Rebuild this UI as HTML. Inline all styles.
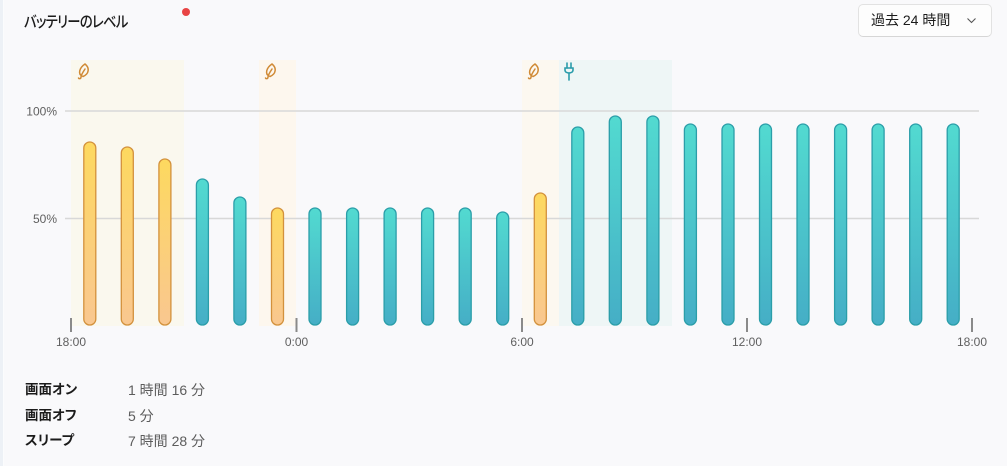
<!DOCTYPE html>
<html><head><meta charset="utf-8"><style>
html,body{margin:0;padding:0;}
body{width:1007px;height:466px;overflow:hidden;background:#f9f9fb;font-family:"Liberation Sans","Noto Sans CJK JP",sans-serif;position:relative;}
.edge{position:absolute;left:0;top:0;width:3px;height:466px;background:#edf1f6;}
.edge2{position:absolute;left:3px;top:0;width:1px;height:466px;background:#fbfcfd;}
.title{position:absolute;left:24px;top:10px;font-size:15.5px;color:#1b1b1b;font-family:"Noto Sans CJK JP",sans-serif;font-weight:500;font-feature-settings:"palt";letter-spacing:-0.8px;line-height:22px;transform:scaleX(0.86);transform-origin:0 50%;white-space:nowrap;}
.dot{position:absolute;left:182px;top:8px;width:8px;height:8px;border-radius:50%;background:#e84444;}
.dd{position:absolute;left:858px;top:4px;width:132px;height:31px;border:1px solid #e2e2e2;border-bottom-color:#d6d6d6;border-radius:5px;background:#fdfdfd;}
.dd span{position:absolute;left:12px;top:5px;font-size:14px;color:#1b1b1b;line-height:20px;font-family:"Liberation Sans","Noto Sans CJK JP",sans-serif;}
.stat{position:absolute;font-size:13.5px;line-height:18px;font-family:"Liberation Sans","Noto Sans CJK JP",sans-serif;}
.lab{left:25px;font-weight:bold;color:#1b1b1b;font-feature-settings:"palt";}
.val{left:128px;color:#5c5c5c;font-size:14px;}
</style></head><body>
<div class="edge"></div><div class="edge2"></div>
<div class="title">バッテリーのレベル</div>
<div class="dot"></div>
<div class="dd"><span>過去 24 時間</span>
<svg style="position:absolute;left:107px;top:12px" width="12" height="8"><polyline points="1.5,1.5 5.5,5.5 9.5,1.5" fill="none" stroke="#555" stroke-width="1.1"/></svg></div>

<svg style="position:absolute;left:0;top:0" width="1007" height="466" xmlns="http://www.w3.org/2000/svg">
<defs>
<linearGradient id="gt" x1="0" y1="0" x2="0" y2="1"><stop offset="0" stop-color="#52dad0"/><stop offset="1" stop-color="#45aec6"/></linearGradient>
<linearGradient id="gy" x1="0" y1="0" x2="0" y2="1"><stop offset="0" stop-color="#fdd95f"/><stop offset="1" stop-color="#f9c790"/></linearGradient>
</defs>
<rect x="71" y="60" width="113" height="266" fill="#faf8ee"/>
<rect x="259" y="60" width="37" height="266" fill="#fdf7ee"/>
<rect x="522" y="60" width="37" height="266" fill="#fcf8f0"/>
<rect x="559" y="60" width="113" height="266" fill="#eef6f6"/>
<line x1="65" y1="111" x2="979" y2="111" stroke="#d8d8d8" stroke-width="1.6"/>
<line x1="65" y1="218.5" x2="979" y2="218.5" stroke="#d8d8d8" stroke-width="1.6"/>
<g font-family="Liberation Sans, sans-serif" font-size="12" fill="#5f5f5f">
<text x="57" y="115.5" text-anchor="end">100%</text>
<text x="57" y="223" text-anchor="end">50%</text>
<text x="71" y="346" text-anchor="middle">18:00</text>
<text x="296.5" y="346" text-anchor="middle">0:00</text>
<text x="522" y="346" text-anchor="middle">6:00</text>
<text x="747" y="346" text-anchor="middle">12:00</text>
<text x="972" y="346" text-anchor="middle">18:00</text>
</g>
<g stroke="#8a8a8a" stroke-width="2">
<line x1="71" y1="318" x2="71" y2="332"/>
<line x1="296.5" y1="318" x2="296.5" y2="332"/>
<line x1="522" y1="318" x2="522" y2="332"/>
<line x1="747" y1="318" x2="747" y2="332"/>
<line x1="972" y1="318" x2="972" y2="332"/>
</g>
<!-- leaf icons -->
<g fill="none" stroke="#d08a35" stroke-width="1.5" stroke-linecap="round">
<g transform="translate(77,63)"><path d="M5 13 C1 11 2 5 8 1 C13 5 12 11 6 13.5"/><path d="M8 6 C6 9 4 12 4 14 C4 16 2 16 1.5 15"/></g>
<g transform="translate(264,63)"><path d="M5 13 C1 11 2 5 8 1 C13 5 12 11 6 13.5"/><path d="M8 6 C6 9 4 12 4 14 C4 16 2 16 1.5 15"/></g>
<g transform="translate(527,63)"><path d="M5 13 C1 11 2 5 8 1 C13 5 12 11 6 13.5"/><path d="M8 6 C6 9 4 12 4 14 C4 16 2 16 1.5 15"/></g>
</g>
<g fill="none" stroke="#2a9cab" stroke-width="1.6" stroke-linecap="round">
<path d="M565 68 L565 70 C565 74 573 74 573 70 L573 68 Z"/>
<line x1="567" y1="63" x2="567" y2="68"/><line x1="571" y1="63" x2="571" y2="68"/>
<line x1="569" y1="73" x2="569" y2="80"/>
</g>
<!-- bars -->
<g stroke-width="1.3">
<rect x="83.8" y="142" width="12" height="183" rx="6" fill="url(#gy)" stroke="#d3913c"/>
<rect x="121.3" y="147" width="12" height="178" rx="6" fill="url(#gy)" stroke="#d3913c"/>
<rect x="158.9" y="159" width="12" height="166" rx="6" fill="url(#gy)" stroke="#d3913c"/>
<rect x="196.4" y="179" width="12" height="146" rx="6" fill="url(#gt)" stroke="#2b9ea9"/>
<rect x="233.9" y="197" width="12" height="128" rx="6" fill="url(#gt)" stroke="#2b9ea9"/>
<rect x="271.5" y="208" width="12" height="117" rx="6" fill="url(#gy)" stroke="#d3913c"/>
<rect x="309.0" y="208" width="12" height="117" rx="6" fill="url(#gt)" stroke="#2b9ea9"/>
<rect x="346.6" y="208" width="12" height="117" rx="6" fill="url(#gt)" stroke="#2b9ea9"/>
<rect x="384.1" y="208" width="12" height="117" rx="6" fill="url(#gt)" stroke="#2b9ea9"/>
<rect x="421.6" y="208" width="12" height="117" rx="6" fill="url(#gt)" stroke="#2b9ea9"/>
<rect x="459.2" y="208" width="12" height="117" rx="6" fill="url(#gt)" stroke="#2b9ea9"/>
<rect x="496.7" y="212" width="12" height="113" rx="6" fill="url(#gt)" stroke="#2b9ea9"/>
<rect x="534.3" y="193" width="12" height="132" rx="6" fill="url(#gy)" stroke="#d3913c"/>
<rect x="571.8" y="127" width="12" height="198" rx="6" fill="url(#gt)" stroke="#2b9ea9"/>
<rect x="609.3" y="116" width="12" height="209" rx="6" fill="url(#gt)" stroke="#2b9ea9"/>
<rect x="646.9" y="116" width="12" height="209" rx="6" fill="url(#gt)" stroke="#2b9ea9"/>
<rect x="684.4" y="124" width="12" height="201" rx="6" fill="url(#gt)" stroke="#2b9ea9"/>
<rect x="722.0" y="124" width="12" height="201" rx="6" fill="url(#gt)" stroke="#2b9ea9"/>
<rect x="759.5" y="124" width="12" height="201" rx="6" fill="url(#gt)" stroke="#2b9ea9"/>
<rect x="797.0" y="124" width="12" height="201" rx="6" fill="url(#gt)" stroke="#2b9ea9"/>
<rect x="834.6" y="124" width="12" height="201" rx="6" fill="url(#gt)" stroke="#2b9ea9"/>
<rect x="872.1" y="124" width="12" height="201" rx="6" fill="url(#gt)" stroke="#2b9ea9"/>
<rect x="909.7" y="124" width="12" height="201" rx="6" fill="url(#gt)" stroke="#2b9ea9"/>
<rect x="947.2" y="124" width="12" height="201" rx="6" fill="url(#gt)" stroke="#2b9ea9"/>
</g>
</svg>

<div class="stat lab" style="top:381px">画面オン</div>
<div class="stat val" style="top:381px">1 時間 16 分</div>
<div class="stat lab" style="top:407px">画面オフ</div>
<div class="stat val" style="top:407px">5 分</div>
<div class="stat lab" style="top:432px">スリープ</div>
<div class="stat val" style="top:432px">7 時間 28 分</div>
</body></html>
